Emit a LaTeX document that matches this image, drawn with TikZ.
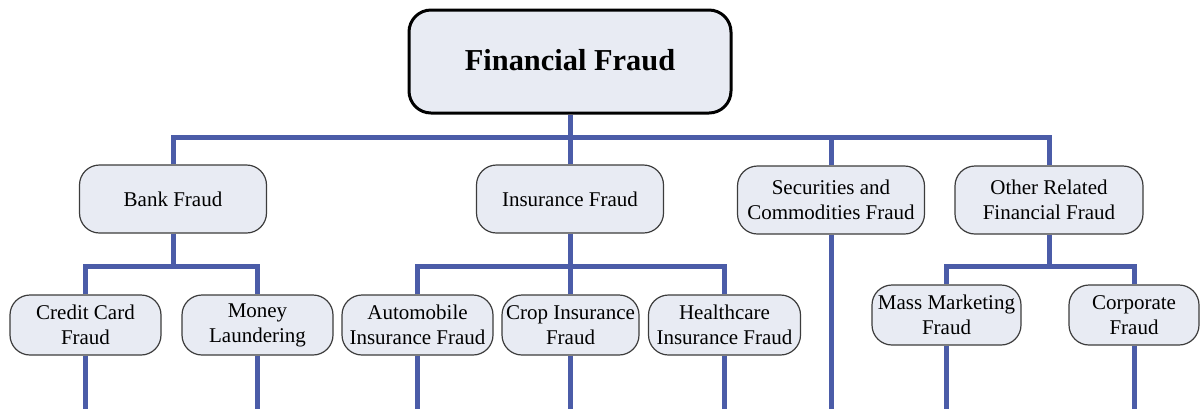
\documentclass[tikz,border=0pt]{standalone}
\usepackage{fontspec}
\setmainfont{Liberation Serif}
\usetikzlibrary{backgrounds}
\definecolor{boxfill}{RGB}{232,235,243}
\definecolor{boxline}{RGB}{60,60,60}
\definecolor{connblue}{RGB}{75,92,168}
\begin{document}
\begin{tikzpicture}[x=0.5pt,y=-0.5pt,
  box/.style={draw=boxline,fill=boxfill,line width=0.6pt,rounded corners=10pt,
    align=center,inner sep=1pt,font=\fontsize{10.5}{12.5}\selectfont},
  topbox/.style={draw=black,fill=boxfill,line width=1.5pt,rounded corners=11pt,
    align=center,font=\fontsize{15.2}{18}\selectfont\bfseries},
  conn/.style={draw=connblue,line width=2.5pt}]
\useasboundingbox (0,0) rectangle (1200,409);
\coordinate (bar) at (570,137);
\coordinate (sub) at (570,266);
\coordinate (bot) at (570,409);
% top
\node[topbox,minimum width=161pt,minimum height=51.5pt] (top) at (570,61.5) {\raisebox{1.5pt}{Financial Fraud}};
% level 1
\node[box,minimum width=93.5pt,minimum height=34pt] (bank) at (173,199) {Bank Fraud};
\node[box,minimum width=93.5pt,minimum height=34pt] (ins) at (570,199) {Insurance Fraud};
\node[box,minimum width=93.5pt,minimum height=34pt] (sec) at (831,200) {Securities and\\Commodities Fraud};
\node[box,minimum width=94pt,minimum height=34pt] (oth) at (1049,200) {Other Related\\Financial Fraud};
% level 2
\node[box,minimum width=75.5pt,minimum height=30pt] (cc) at (85.5,325) {Credit Card\\Fraud};
\node[box,minimum width=75.5pt,minimum height=30pt] (ml) at (257.5,325) {Money\\Laundering};
\node[box,minimum width=75.5pt,minimum height=30pt] (auto) at (417.5,325) {Automobile\\Insurance Fraud};
\node[box,minimum width=68.5pt,minimum height=30pt] (crop) at (570.5,325) {Crop Insurance\\Fraud};
\node[box,minimum width=76pt,minimum height=30pt] (hc) at (724.5,325) {Healthcare\\Insurance Fraud};
\node[box,minimum width=74.5pt,minimum height=30pt] (mm) at (946.5,315) {Mass Marketing\\Fraud};
\node[box,minimum width=65pt,minimum height=30pt] (corp) at (1134,315) {Corporate\\Fraud};
\begin{pgfonlayer}{background}
% top level
\draw[conn] (top.south) -- (top.south |- bar);
\draw[conn] (bank.north) -- (bank.north |- bar) -- (oth.north |- bar) -- (oth.north);
\draw[conn] (ins.north) -- (ins.north |- bar);
\draw[conn] (sec.north) -- (sec.north |- bar);
% bank subtree
\draw[conn] (bank.south) -- (bank.south |- sub);
\draw[conn] (cc.north) -- (cc.north |- sub) -- (ml.north |- sub) -- (ml.north);
% insurance subtree
\draw[conn] (ins.south) -- (ins.south |- sub);
\draw[conn] (auto.north) -- (auto.north |- sub) -- (hc.north |- sub) -- (hc.north);
\draw[conn] (crop.north) -- (crop.north |- sub);
% other subtree
\draw[conn] (oth.south) -- (oth.south |- sub);
\draw[conn] (mm.north) -- (mm.north |- sub) -- (corp.north |- sub) -- (corp.north);
% bottom drops
\draw[conn] (cc.south) -- (cc.south |- bot);
\draw[conn] (ml.south) -- (ml.south |- bot);
\draw[conn] (auto.south) -- (auto.south |- bot);
\draw[conn] (crop.south) -- (crop.south |- bot);
\draw[conn] (hc.south) -- (hc.south |- bot);
\draw[conn] (sec.south) -- (sec.south |- bot);
\draw[conn] (mm.south) -- (mm.south |- bot);
\draw[conn] (corp.south) -- (corp.south |- bot);
\end{pgfonlayer}
\end{tikzpicture}
\end{document}
